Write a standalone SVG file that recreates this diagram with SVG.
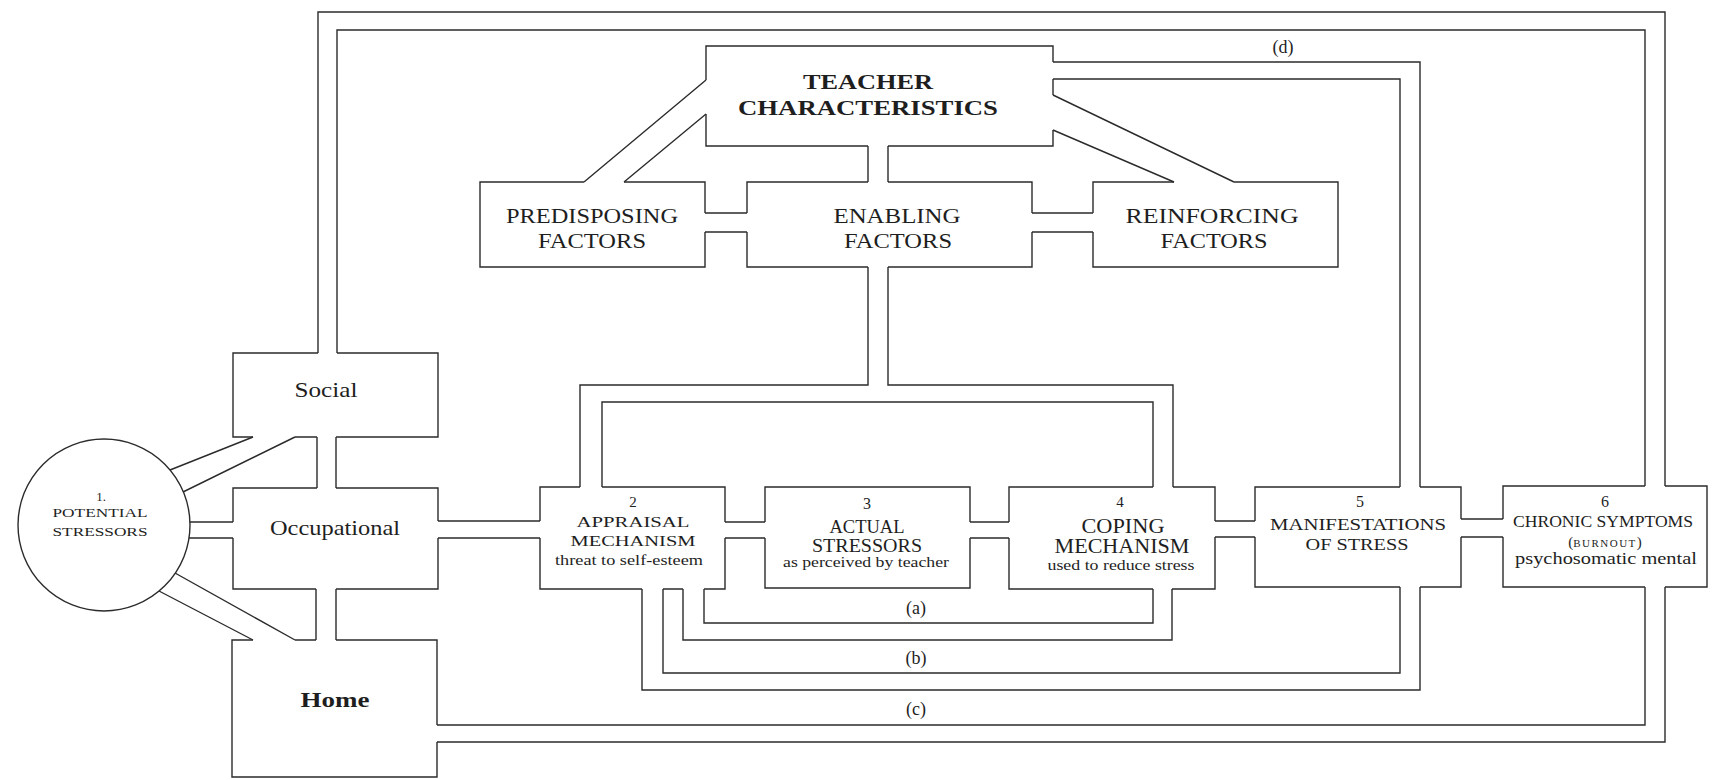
<svg xmlns="http://www.w3.org/2000/svg" width="1713" height="780" viewBox="0 0 1713 780">
<style>
.ln{fill:none;stroke:#2b2b2b;stroke-width:1.4;stroke-linejoin:miter}
.t{font-family:"Liberation Serif","Times New Roman",serif;fill:#1e1e1e;stroke:none;text-anchor:middle}
.b{font-weight:bold}
</style>
<rect width="1713" height="780" fill="#ffffff"/>
<g id="connectors">
<g class="ln">
<path d="M706,80 L584,182 M706,114 L624,182"/>
<path d="M1053,95 L1234,182 M1053,130 L1174,182"/>
<path d="M868,146 V182 M888,146 V182"/>
<path d="M705,213 H747 M705,232 H747"/>
<path d="M1032,213 H1093 M1032,232 H1093"/>
<path d="M868,267 V385 H580 V487 M888,267 V385 H1173 V487 M602,487 V402 H1153 V487"/>
<path d="M253,437 L170,470 M295,437 L183,492"/>
<path d="M253,640 L159,591 M295,640 L175,573"/>
<path d="M190,522 H233 M189,538 H233"/>
<path d="M317,437 V488 M336,437 V488"/>
<path d="M316,589 V640 M336,589 V640"/>
<path d="M438,521 H540 M438,538 H540"/>
<path d="M725,522 H765 M725,538 H765"/>
<path d="M970,522 H1009 M970,538 H1009"/>
<path d="M1215,521 H1255 M1215,537 H1255"/>
<path d="M1461,519 H1503 M1461,537 H1503"/>
<path d="M704,589 V623 H1153 V589 M683,589 V640 H1172 V589"/>
<path d="M663,589 V673 H1400 V587 M642,589 V690 H1420 V587"/>
<path d="M437,725 H1645 V587 M437,742 H1665 V587"/>
<path d="M1053,62 H1420 V487 M1053,79 H1400 V487"/>
<path d="M318,353 V12 H1665 V486 M337,353 V30 H1645 V486"/>
</g>
<text class="t" x="916" y="614" font-size="18">(a)</text>
<text class="t" x="916" y="664" font-size="18">(b)</text>
<text class="t" x="916" y="715" font-size="18">(c)</text>
<text class="t" x="1283" y="53" font-size="18">(d)</text>
</g>
<g id="teacher">
<path class="ln" d="M706,80 V46 H1053 V62 M1053,79 V95 M1053,130 V146 H888 M868,146 H706 V114"/>
<text class="t b" x="868" y="89" font-size="22" textLength="130" lengthAdjust="spacingAndGlyphs">TEACHER</text>
<text class="t b" x="868" y="115" font-size="22" textLength="260" lengthAdjust="spacingAndGlyphs">CHARACTERISTICS</text>
</g>
<g id="predisposing">
<path class="ln" d="M584,182 H480 V267 H705 V232 M705,213 V182 H624"/>
<text class="t" x="592" y="223" font-size="21" textLength="172" lengthAdjust="spacingAndGlyphs">PREDISPOSING</text>
<text class="t" x="592" y="248" font-size="21" textLength="108" lengthAdjust="spacingAndGlyphs">FACTORS</text>
</g>
<g id="enabling">
<path class="ln" d="M747,213 V182 H868 M888,182 H1032 V213 M1032,232 V267 H888 M868,267 H747 V232"/>
<text class="t" x="897" y="223" font-size="21" textLength="127" lengthAdjust="spacingAndGlyphs">ENABLING</text>
<text class="t" x="898" y="248" font-size="21" textLength="108" lengthAdjust="spacingAndGlyphs">FACTORS</text>
</g>
<g id="reinforcing">
<path class="ln" d="M1174,182 H1093 V213 M1093,232 V267 H1338 V182 H1234"/>
<text class="t" x="1212" y="223" font-size="21" textLength="173" lengthAdjust="spacingAndGlyphs">REINFORCING</text>
<text class="t" x="1214" y="248" font-size="21" textLength="107" lengthAdjust="spacingAndGlyphs">FACTORS</text>
</g>
<g id="stressors">
<circle class="ln" cx="104" cy="525" r="86"/>
<text class="t" x="101" y="501" font-size="13">1.</text>
<text class="t" x="100" y="517" font-size="13" textLength="95" lengthAdjust="spacingAndGlyphs">POTENTIAL</text>
<text class="t" x="100" y="536" font-size="13" textLength="95" lengthAdjust="spacingAndGlyphs">STRESSORS</text>
</g>
<g id="social">
<path class="ln" d="M318,353 H233 V437 H253 M295,437 H317 M336,437 H438 V353 H337"/>
<text class="t" x="326" y="397" font-size="21" textLength="63" lengthAdjust="spacingAndGlyphs">Social</text>
</g>
<g id="occupational">
<path class="ln" d="M317,488 H233 V522 M233,538 V589 H316 M336,589 H438 V538 M438,521 V488 H336"/>
<text class="t" x="335" y="535" font-size="21" textLength="130" lengthAdjust="spacingAndGlyphs">Occupational</text>
</g>
<g id="home">
<path class="ln" d="M253,640 H232 V777 H437 V742 M437,725 V640 H336 M316,640 H295"/>
<text class="t b" x="335" y="707" font-size="22" textLength="69" lengthAdjust="spacingAndGlyphs">Home</text>
</g>
<g id="appraisal">
<path class="ln" d="M580,487 H540 V521 M540,538 V589 H642 M663,589 H683 M704,589 H725 V538 M725,522 V487 H602"/>
<text class="t" x="633" y="507" font-size="15">2</text>
<text class="t" x="633" y="527" font-size="15" textLength="113" lengthAdjust="spacingAndGlyphs">APPRAISAL</text>
<text class="t" x="633" y="546" font-size="15" textLength="125" lengthAdjust="spacingAndGlyphs">MECHANISM</text>
<text class="t" x="629" y="565" font-size="14" textLength="148" lengthAdjust="spacingAndGlyphs">threat to self-esteem</text>
</g>
<g id="actual">
<path class="ln" d="M765,522 V487 H970 V522 M970,538 V588 H765 V538"/>
<text class="t" x="867" y="509" font-size="16">3</text>
<text class="t" x="867" y="533" font-size="18" textLength="75" lengthAdjust="spacingAndGlyphs">ACTUAL</text>
<text class="t" x="867" y="552" font-size="18" textLength="110" lengthAdjust="spacingAndGlyphs">STRESSORS</text>
<text class="t" x="866" y="567" font-size="14" textLength="166" lengthAdjust="spacingAndGlyphs">as perceived by teacher</text>
</g>
<g id="coping">
<path class="ln" d="M1009,522 V487 H1153 M1173,487 H1215 V521 M1215,537 V589 H1172 M1153,589 H1009 V538"/>
<text class="t" x="1120" y="507" font-size="15">4</text>
<text class="t" x="1123" y="533" font-size="20" textLength="83" lengthAdjust="spacingAndGlyphs">COPING</text>
<text class="t" x="1122" y="553" font-size="20" textLength="135" lengthAdjust="spacingAndGlyphs">MECHANISM</text>
<text class="t" x="1121" y="570" font-size="14" textLength="147" lengthAdjust="spacingAndGlyphs">used to reduce stress</text>
</g>
<g id="manifestations">
<path class="ln" d="M1255,521 V487 H1400 M1420,487 H1461 V519 M1461,537 V587 H1420 M1400,587 H1255 V537"/>
<text class="t" x="1360" y="507" font-size="16">5</text>
<text class="t" x="1358" y="530" font-size="17" textLength="176" lengthAdjust="spacingAndGlyphs">MANIFESTATIONS</text>
<text class="t" x="1357" y="550" font-size="17" textLength="103" lengthAdjust="spacingAndGlyphs">OF STRESS</text>
</g>
<g id="chronic">
<path class="ln" d="M1503,519 V486 H1645 M1665,486 H1707 V587 H1665 M1645,587 H1503 V537"/>
<text class="t" x="1605" y="507" font-size="16">6</text>
<text class="t" x="1603" y="527" font-size="16" textLength="180" lengthAdjust="spacingAndGlyphs">CHRONIC SYMPTOMS</text>
<text class="t" x="1605" y="547" font-size="15">(<tspan font-size="11" letter-spacing="1.5">BURNOUT</tspan>)</text>
<text class="t" x="1606" y="564" font-size="17" textLength="182" lengthAdjust="spacingAndGlyphs">psychosomatic mental</text>
</g>
</svg>
